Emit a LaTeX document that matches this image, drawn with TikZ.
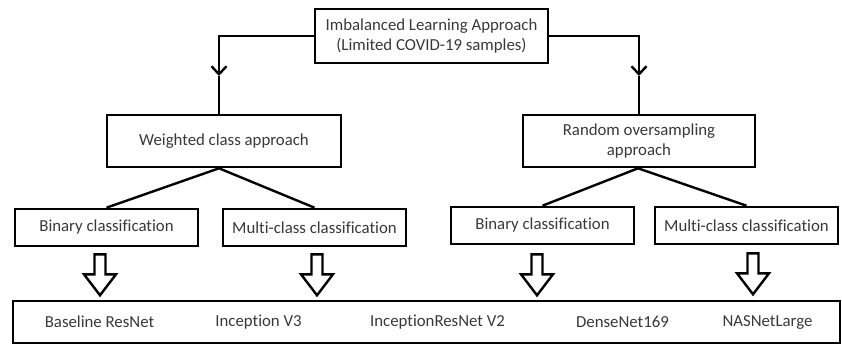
\documentclass[tikz,border=0pt]{standalone}
\usepackage{fontspec}
\setmainfont{Carlito}[Ligatures=NoCommon]
\usetikzlibrary{arrows.meta,calc}
\begin{document}
\begin{tikzpicture}[x=1pt,y=-1pt,
  font=\fontsize{16.8}{20}\selectfont,
  box/.style={draw=black, line width=2.6pt, align=center, inner sep=0pt, text=black!78},
  lbl/.style={inner sep=0pt, text=black!78},
  conn/.style={draw=black, line width=2.4pt, line join=miter},
  chev/.style={-{Straight Barb[length=8pt,width=15pt,line width=2.4pt]}},
  hollowarrow/.pic={\draw[line width=2.4pt, line join=miter, fill=white]
    (-5.5,0) -- (5.5,0) -- (5.5,20) -- (16,20) -- (0,41) -- (-16,20) -- (-5.5,20) -- cycle;}]
\useasboundingbox (0,0) rectangle (842,345);

% boxes
\node[box, minimum width=233pt, minimum height=54pt] (top) at (431.5,36)
  {Imbalanced Learning Approach\\(Limited COVID-19 samples)};
\node[box, minimum width=234pt, minimum height=52pt] (w) at (224,141) {Weighted class approach};
\node[box, minimum width=232pt, minimum height=52pt] (r) at (639,141) {Random oversampling\\approach};
\node[box, minimum width=183pt, minimum height=37pt] (bl) at (106.5,227.5) {Binary classification};
\node[box, minimum width=183pt, minimum height=37pt] (ml) at (314.5,227.5) {Multi-class classification};
\node[box, minimum width=183pt, minimum height=37pt] (br) at (542.5,225.5) {Binary classification};
\node[box, minimum width=183pt, minimum height=37pt] (mr) at (746.5,225.5) {Multi-class classification};
\node[box, minimum width=827pt, minimum height=42pt] (bot) at (426.5,322) {};

% model names
\node[lbl] (m1) at (99.5,322) {Baseline ResNet};
\node[lbl] (m2) at (258.5,322) {Inception V3};
\node[lbl] (m3) at (437.5,322) {InceptionResNet V2};
\node[lbl] (m4) at (622.5,322) {DenseNet169};
\node[lbl] (m5) at (767.5,322) {NASNetLarge};

% connectors from top box
\coordinate (wtop) at ($(w.north)+(-5,0)$);
\coordinate (la) at (wtop |- 0,76);
\coordinate (ra) at (r.north |- 0,76);
\draw[conn, chev] (top.west) -| (la);
\draw[conn] (la) -- (wtop);
\draw[conn, chev] (top.east) -| (ra);
\draw[conn] (ra) -- (r.north);

% fan-out lines
\coordinate (wbot) at ($(w.south)+(-5,0)$);
\draw[conn] (wbot) -- (bl.north);
\draw[conn] (wbot) -- (ml.north);
\draw[conn] ($(r.south)+(-1,0)$) -- (br.north);
\draw[conn] ($(r.south)+(-1,0)$) -- (mr.north);

% hollow block arrows
\pic at ($(bl.south)+(-6.5,7)$) {hollowarrow};
\pic at ($(ml.south)+(2.5,7)$) {hollowarrow};
\pic at ($(br.south)+(-5.5,9)$) {hollowarrow};
\pic at ($(mr.south)+(6.5,8)$) {hollowarrow};
\end{tikzpicture}
\end{document}
